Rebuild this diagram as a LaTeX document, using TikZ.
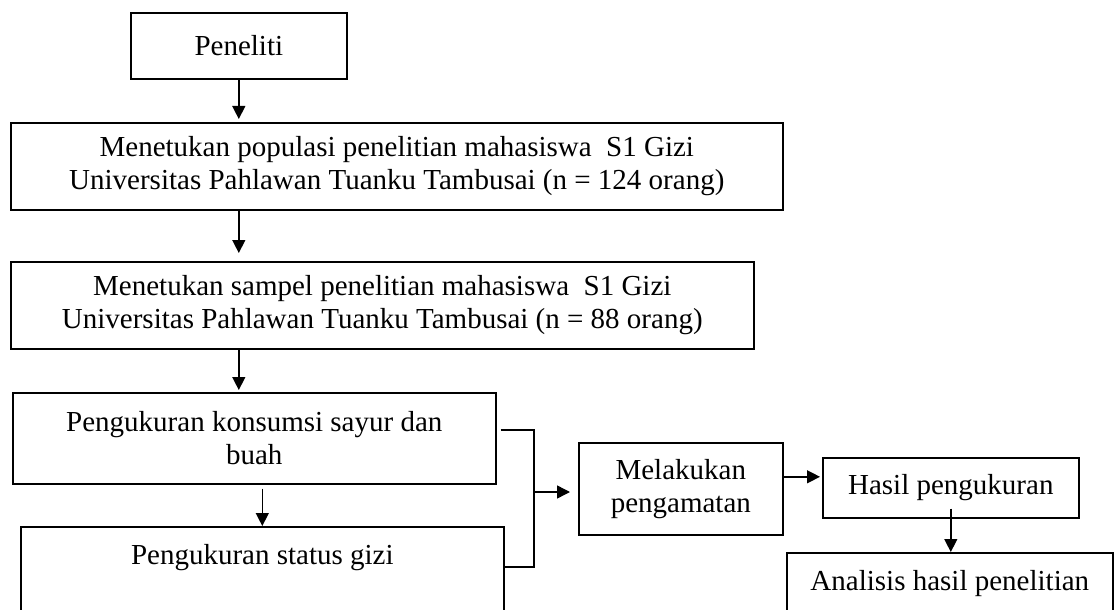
\documentclass[tikz,border=0pt]{standalone}
\usepackage{fontspec}
\setmainfont{Liberation Serif}
\usetikzlibrary{arrows.meta,positioning,calc}

\begin{document}
\begin{tikzpicture}[x=0.5pt,y=-0.5pt,
  box/.style={draw,line width=0.8pt,align=center,inner sep=0pt,anchor=north west,font=\fontsize{14.5}{16.5}\selectfont},
  open/.style={box,text height=16pt,text depth=60pt,inner ysep=3pt},
  line/.style={line width=0.7pt},
  arr/.style={line,-{Triangle[length=6.5pt,width=6.5pt]}}]
\useasboundingbox (0,0) rectangle (1119,610);
% Boxes placed by their top left corner (pixel grid of the sheet).
\node[box,minimum width=108pt,minimum height=33pt] (peneliti) at (130,12) {Peneliti};
\node[box,minimum width=386pt,minimum height=43.5pt] (populasi) at (10,122) {Menetukan populasi penelitian mahasiswa\ \ S1 Gizi\\Universitas Pahlawan Tuanku Tambusai (n = 124 orang)};
\node[box,minimum width=371.5pt,minimum height=43.5pt] (sampel) at (10,261) {Menetukan sampel penelitian mahasiswa\ \ S1 Gizi\\Universitas Pahlawan Tuanku Tambusai (n = 88 orang)};
\node[box,minimum width=241.5pt,minimum height=45.5pt] (konsumsi) at (12,392) {Pengukuran konsumsi sayur dan\\buah};
\node[open,minimum width=241.5pt] (status) at (20,526) {Pengukuran status gizi};
\node[box,minimum width=102pt,minimum height=46pt] (amati) at (578,442) {Melakukan\\pengamatan};
\node[box,minimum width=128pt,minimum height=30pt] (hasil) at (822,457) {Hasil pengukuran};
\node[open,minimum width=163pt] (analisis) at (786,552) {Analisis hasil penelitian};
\coordinate (cabang) at (534,492);
% Connectors
\draw[arr,shorten >=1.5pt] (peneliti.south) -- (peneliti.south |- populasi.north);
\draw[arr,shorten >=4pt] (peneliti.south |- populasi.south) -- (peneliti.south |- sampel.north);
\draw[arr,shorten >=1pt] (peneliti.south |- sampel.south) -- (peneliti.south |- konsumsi.north);
\draw[arr,shorten <=2pt] (status.north |- konsumsi.south) -- (status.north);
\draw[line] ([shift={(2pt,4.25pt)}]konsumsi.east) -| (cabang) |- ([shift={(-0.5pt,-20.5pt)}]status.north east);
\draw[arr,shorten >=4pt] (cabang) -- (cabang -| amati.west);
\draw[arr,shorten >=1pt] ([yshift=6pt]amati.east) -- ([yshift=6pt]amati.east -| hasil.west);
\draw[arr] ([yshift=5pt]hasil.south) -- (hasil.south |- analisis.north);
\end{tikzpicture}
\end{document}
